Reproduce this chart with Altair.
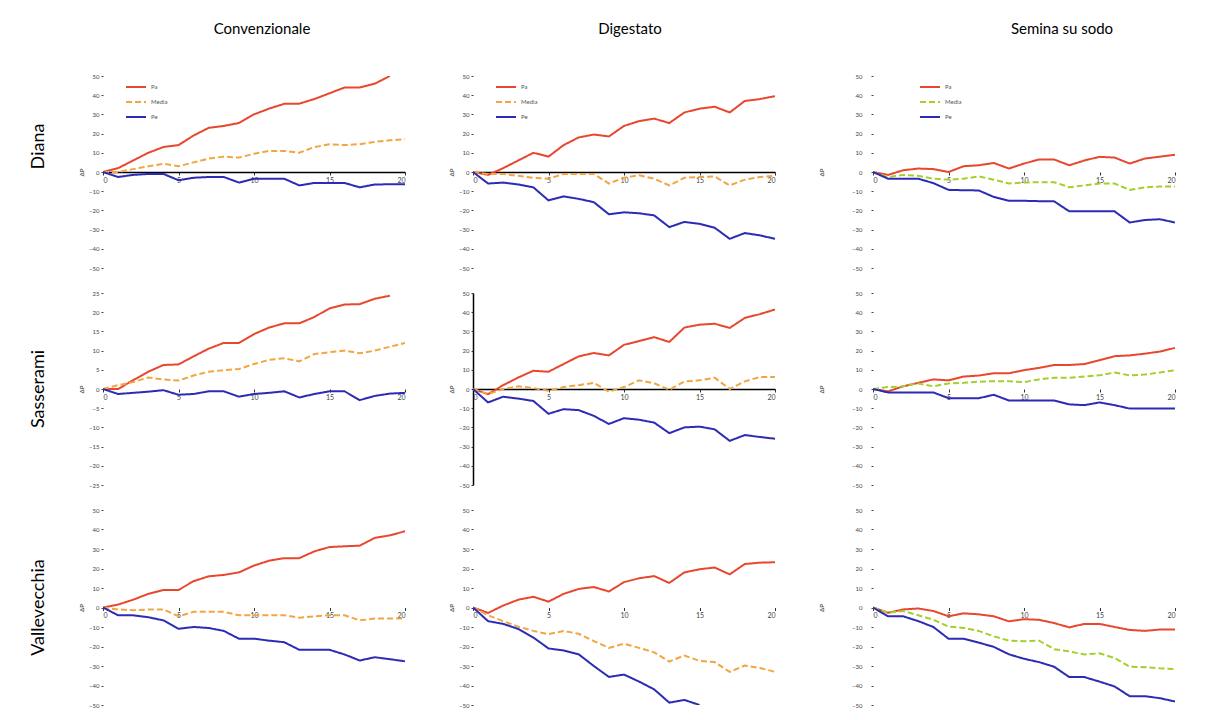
import altair as alt
import pandas as pd

# ---- data ----
X = list(range(21))
COLS = ["Convenzionale", "Digestato", "Semina  su sodo"]
ROWS = ["Diana", "Sasserami", "Vallevecchia"]
NAMES = ["Pa", "Media", "Pe"]

# Diana
d_conv_red = [0, 2, 6, 10, 13, 14, 19, 23, 24, 25.5, 30, 33, 35.5, 35.6, 38, 41, 44, 44, 46, 50]
d_conv_mid = [0, 0, 1.5, 3, 4.3, 3, 5, 7, 8, 7.5, 9.5, 11, 11, 10, 13, 14.4, 14, 14.5, 15.7, 16.5, 17]
d_conv_blu = [0, -2.6, -1.5, -1, -1, -4.3, -3, -2.6, -2.6, -5.5, -3.5, -3.5, -3.5, -7, -5.7, -5.7, -5.7, -8, -6.5, -6.4, -6.4]
d_dig_red = [0, -1.5, 2, 6, 10, 8, 14, 18, 19.5, 18.5, 24, 26.5, 27.8, 25.5, 31, 33, 34, 31, 37, 38, 39.5]
d_dig_mid = [0, -1, -1, -2, -3, -3.5, -1, -1, -1, -6, -3, -1.7, -3.5, -7, -3, -2.6, -2.3, -7, -4, -2.6, -2]
d_dig_blu = [0, -6, -5.5, -6.5, -8, -14.8, -12.7, -14, -15.7, -22, -21, -21.5, -22.6, -28.7, -26, -27, -29, -34.8, -31.8, -33, -34.8]
d_sod_red = [0, -1.5, 0.9, 1.8, 1.5, 0, 3, 3.5, 4.7, 1.8, 4.4, 6.5, 6.5, 3.5, 6, 7.9, 7.5, 4.4, 7, 8, 9]
d_sod_mid = [0, -2.6, -1.5, -2, -3.5, -4, -3.5, -2.3, -4, -6, -5.5, -5.3, -5.3, -7.9, -7, -6, -6, -9.3, -8, -7.5, -7.5]
d_sod_blu = [0, -3.5, -3.5, -3.5, -5.8, -9.3, -9.5, -9.6, -13, -15, -15, -15.2, -15.3, -20.5, -20.5, -20.5, -20.5, -26.3, -25, -24.6, -26.3]

# Sasserami
s_conv_red = [0, 0, 2.3, 4.5, 6.25, 6.4, 8.5, 10.5, 12, 12, 14.3, 16, 17.1, 17.1, 18.75, 21, 22, 22.1, 23.5, 24.3]
s_conv_mid = [0, 1, 1.8, 3, 2.5, 2.2, 3.5, 4.5, 4.9, 5.2, 6.5, 7.6, 8, 7.2, 9.1, 9.6, 10, 9.3, 10, 11, 12]
s_conv_blu = [0, -1.3, -1, -0.7, -0.3, -1.5, -1.3, -0.6, -0.6, -2, -1.3, -1, -0.6, -2.2, -1.3, -0.6, -0.6, -2.9, -1.8, -1.2, -1]
s_dig_red = [0, -2.7, 2, 6, 9.5, 9, 13, 17, 18.75, 17.5, 23, 25, 27, 24.5, 32, 33.5, 34, 31.8, 37, 39, 41.4]
s_dig_mid = [0, -2.7, 0, 1.4, 0.5, -0.9, 1, 2, 3.2, -1.4, 1, 4.5, 3, -0.4, 3.9, 4.5, 5.9, 0, 4, 6.25, 6.25]
s_dig_blu = [0, -7, -4, -5, -6.25, -12.9, -10.5, -11, -14, -18.2, -15.2, -16, -17.5, -23, -20, -19.6, -21, -27, -24, -25, -25.9]
s_sod_red = [0, -1.25, 1.4, 3.2, 5, 4.5, 6.5, 7, 8.2, 8.2, 9.8, 11, 12.5, 12.5, 13, 15, 17.1, 17.5, 18.4, 19.5, 21.4]
s_sod_mid = [0, 1, 1.4, 2.9, 1.4, 2.9, 3.2, 3.8, 4.1, 4, 3.6, 5, 5.9, 5.9, 6.5, 7.1, 8.6, 7.1, 7.5, 8.6, 9.8]
s_sod_blu = [0, -1.8, -1.8, -1.8, -1.8, -4.8, -4.8, -4.8, -3, -6, -6, -6, -6, -8, -8.4, -7, -8.4, -10.2, -10.2, -10.2, -10.2]

# Vallevecchia
v_conv_red = [0, 1.5, 4, 7, 9, 9, 13.5, 16, 16.7, 18, 21.5, 24, 25.3, 25.3, 28.8, 31, 31.4, 31.7, 35.7, 37, 39.1]
v_conv_mid = [0, -1, -1.4, -1, -1, -4.5, -2.2, -2.2, -2.2, -4, -4, -4, -4, -5.2, -4.5, -4, -4, -6.6, -5.7, -5.7, -5.7]
v_conv_blu = [0, -4, -4, -5, -6.6, -10.9, -10, -10.5, -12, -16, -16, -17, -17.8, -21.7, -21.7, -21.7, -24.1, -27.2, -25.5, -26.5, -27.6]
v_dig_red = [0, -2.8, 1, 4, 5.5, 3, 7, 9.5, 10.5, 8.2, 13, 15, 16.1, 12.6, 18, 19.6, 20.5, 17, 22.3, 23, 23.2]
v_dig_mid = [0, -4, -7, -9.8, -12, -13.7, -12, -13.5, -17.2, -20.7, -18.6, -20.7, -23, -27.7, -24.6, -27.4, -28, -33, -29.8, -31, -33]
v_dig_blu = [0, -7, -8.4, -11, -15.4, -21, -22, -24, -30, -35.6, -34.4, -38, -42, -48.8, -47.4, -50]
v_sod_red = [0, -2.7, -1, -0.5, -1.8, -4.5, -3, -3.5, -4.5, -7.1, -6, -6.3, -8, -10.2, -8.4, -8.4, -10, -11.5, -12, -11.3, -11.3]
v_sod_mid = [0, -2.7, -1.8, -4, -6.3, -9.8, -10.5, -12, -14.8, -17, -17.3, -17, -21.4, -22.5, -24.1, -23.5, -25.9, -30.4, -30.6, -31.2, -31.6]
v_sod_blu = [0, -4.5, -4.5, -7, -10, -16, -16, -18, -20.2, -24, -26.3, -28, -30.4, -35.7, -35.7, -38, -40.5, -45.5, -45.5, -46.5, -48.2]

PANELS = [
    [(d_conv_red, d_conv_mid, d_conv_blu), (d_dig_red, d_dig_mid, d_dig_blu), (d_sod_red, d_sod_mid, d_sod_blu)],
    [(s_conv_red, s_conv_mid, s_conv_blu), (s_dig_red, s_dig_mid, s_dig_blu), (s_sod_red, s_sod_mid, s_sod_blu)],
    [(v_conv_red, v_conv_mid, v_conv_blu), (v_dig_red, v_dig_mid, v_dig_blu), (v_sod_red, v_sod_mid, v_sod_blu)],
]
Y_LIMIT = [[50, 50, 50], [25, 50, 50], [50, 50, 50]]
X_TICKS = [0, 5, 10, 15, 20]
ZERO_LINE = [[True, True, False], [False, True, False], [False, False, False]]
Y_DOMAIN_LINE = [[False, False, False], [False, True, False], [False, False, False]]

RED, ORANGE, GREEN, BLUE = "#e8472e", "#f2a541", "#a5cf2a", "#2b2bb5"
FONT = "Lato"

W = 302
HEIGHTS = [192, 192, 195]


def panel(r, c):
    red, mid, blu = PANELS[r][c]
    rows = []
    for name, vals in zip(NAMES, (red, mid, blu)):
        for xv, yv in zip(X, vals):
            rows.append({"x": xv, "y": yv, "serie": name})
    df = pd.DataFrame(rows)
    H = HEIGHTS[r]
    lim = Y_LIMIT[r][c]
    step = lim / 5
    yticks = [-lim + i * step for i in range(11)]
    colors = [RED, GREEN if c == 2 else ORANGE, BLUE]
    if r == 0:
        legend = alt.Legend(orient="none", legendX=22 if c < 2 else 46, legendY=0,
                            symbolType="stroke", symbolSize=400, symbolStrokeWidth=2,
                            labelFontSize=6, labelFont=FONT, title=None, rowPadding=0,
                            labelColor="#555")
    else:
        legend = None
    chart = alt.Chart(df).mark_line(strokeWidth=2, clip=True).encode(
        x=alt.X("x:Q", scale=alt.Scale(domain=[0, 20], nice=False, zero=False),
                axis=alt.Axis(values=X_TICKS, offset=-H / 2, title=None,
                              domain=ZERO_LINE[r][c], domainColor="black", domainWidth=1.5,
                              tickSize=3, tickColor="#333", labelFontSize=7, labelFont=FONT,
                              labelColor="#444", grid=False, labelPadding=1)),
        y=alt.Y("y:Q", scale=alt.Scale(domain=[-lim, lim], nice=False),
                axis=alt.Axis(values=yticks, title="ΔP", titleFontSize=6, titleFont=FONT,
                              titleColor="#555", titlePadding=4 if c < 2 else 27,
                              domain=Y_DOMAIN_LINE[r][c], domainColor="black", domainWidth=1.5,
                              tickSize=2, tickColor="#444", labelFontSize=6, labelFont=FONT,
                              labelColor="#444", grid=False,
                              labelPadding=2 if c < 2 else 9, format="d")),
        color=alt.Color("serie:N", scale=alt.Scale(domain=NAMES, range=colors), legend=legend),
        strokeDash=alt.StrokeDash("serie:N", scale=alt.Scale(domain=NAMES, range=[[1, 0], [6, 3], [1, 0]]),
                                  legend=None),
        order=alt.Order("x:Q"),
    )
    props = dict(width=W, height=H)
    if r == 0:
        props["title"] = alt.TitleParams(COLS[c], fontSize=15, font=FONT, fontWeight="normal",
                                         offset=36, dx=(8 if c == 0 else (6 if c == 1 else 38)))
    return chart.properties(**props)


cells = []
for r in range(3):
    for c in range(3):
        cells.append(panel(r, c))

# row titles on the first column
for r in range(3):
    i = r * 3
    left = alt.TitleParams(ROWS[r], orient="left", fontSize=18, font=FONT, fontWeight="normal",
                           anchor="middle", offset=31)
    cells[i] = alt.vconcat(cells[i]).properties(title=left)

chart = alt.concat(*cells, columns=3, spacing={"row": 19, "column": 42}).resolve_scale(
    color="independent", strokeDash="independent"
).properties(
    align="each", background="white",
    padding={"top": 14, "left": 21, "right": 5, "bottom": 3},
).configure_view(stroke=None)

chart.save("out.html", embed_options={"renderer": "svg", "actions": False})
